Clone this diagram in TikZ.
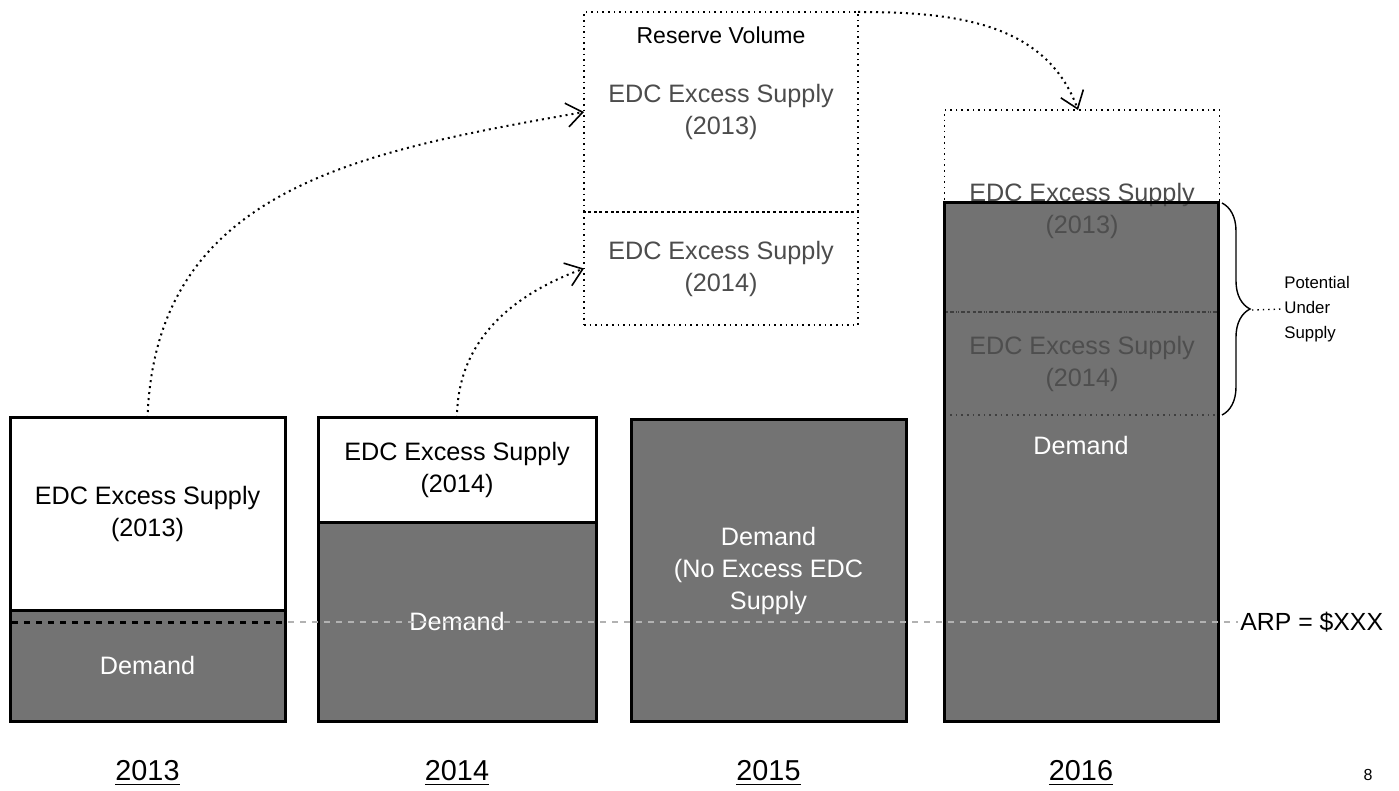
\documentclass[tikz,border=0pt]{standalone}
\usepackage{fontspec}
\setmainfont{Liberation Sans}
\usetikzlibrary{arrows.meta,decorations.pathreplacing}

\begin{document}
\begin{tikzpicture}[x=0.5pt, y=-0.5pt,
    txt/.style={font=\fontsize{12.6}{16}\selectfont, align=center},
    bar/.style={txt, draw, line width=1.5pt, inner sep=0pt, outer sep=0pt},
    demand/.style={bar, fill=black!55, text=white},
    reserve/.style={txt, draw, dotted, line width=0.8pt, inner sep=0pt, outer sep=0pt, text=black!70},
    flow/.style={dotted, line width=1pt, -{Straight Barb[length=8pt, width=12pt, line width=0.8pt]}},
    year/.style={font=\fontsize{14.4}{17}\selectfont}]
    \useasboundingbox (0, 0) rectangle (1399, 791);

    % 2016 column: reserve volumes seen through the demand bar
    \node[reserve, minimum width=137.5pt, minimum height=101pt] (rs16a) at (1082, 211) {EDC Excess Supply\\(2013)};
    \node[reserve, minimum width=137.5pt, minimum height=51.5pt, anchor=north] (rs16b) at (rs16a.south) {EDC Excess Supply\\(2014)};
    \node[demand, minimum width=137pt, minimum height=259pt, fill=black!69, fill opacity=0.8, draw opacity=1] (dm16) at (1081, 462) {};
    \node[txt, text=white] (dl16) at (1081, 445) {Demand};

    % 2013, 2014, 2015
    \node[bar, minimum width=137.5pt, minimum height=96pt] (ex13) at (147.5, 514) {EDC Excess Supply\\(2013)};
    \node[demand, minimum width=137.5pt, minimum height=55.5pt, anchor=north] (dm13) at (ex13.south) {Demand};
    \node[bar, minimum width=139pt, minimum height=52pt] (ex14) at (457, 470) {EDC Excess Supply\\(2014)};
    \node[demand, minimum width=139pt, minimum height=99.5pt, anchor=north] (dm14) at (ex14.south) {Demand};
    \node[demand, minimum width=137.5pt, minimum height=150.5pt] (dm15) at (768.5, 570.5) {Demand\\(No Excess EDC\\Supply};

    % reserve volume
    \node[reserve, minimum width=137pt, minimum height=100pt] (rv13) at (721, 112) {EDC Excess Supply\\(2013)};
    \node[txt, font=\fontsize{11.5}{14}\selectfont, anchor=north] (rvt) at ([yshift=-4pt]rv13.north) {Reserve Volume};
    \node[reserve, minimum width=137pt, minimum height=56.5pt, anchor=north] (rv14) at (rv13.south) {EDC Excess Supply\\(2014)};

    % ARP line
    \coordinate (arpl) at (12, 622);
    \node[font=\fontsize{12.4}{15}\selectfont, anchor=west, inner sep=1pt] (arp) at (1238, 622) {ARP = \$XXX};
    \draw[dashed, black!30, line width=1pt] (arpl) -- (arp.west);
    \draw[dashed, line width=1.5pt] (arpl) -- (arpl -| ex13.east);

    % flows
    \draw[flow] (ex13.north) to[out=88, in=190, looseness=1.1] (rv13.west);
    \draw[flow] (ex14.north) to[out=90, in=200] (rv14.west);
    \draw[flow] (rv13.north east) to[out=0, in=110] ([xshift=-2pt]rs16a.north);

    % potential under supply
    \draw[decorate, decoration={brace, amplitude=14pt}, line width=0.7pt] ([xshift=2pt]dm16.north east) -- ([xshift=2pt]dm16.east |- rs16b.south);
    \coordinate (tip) at (1252, 310);
    \node[font=\fontsize{8.4}{12.5}\selectfont, align=left, anchor=west, inner sep=0pt] (pus) at (1284, 309) {Potential\\Under\\Supply};
    \draw[dotted, line width=0.7pt] (tip) -- (pus.west);

    % years
    \node[year] (y13) at ([yshift=-26pt]dm13.south) {\underline{2013}};
    \node[year] (y14) at ([yshift=-26pt]dm14.south) {\underline{2014}};
    \node[year] (y15) at ([yshift=-26pt]dm15.south) {\underline{2015}};
    \node[year] (y16) at ([yshift=-26pt]dm16.south) {\underline{2016}};
    \node[font=\fontsize{8}{10}\selectfont] (pg) at (1368, 775) {8};
\end{tikzpicture}
\end{document}
